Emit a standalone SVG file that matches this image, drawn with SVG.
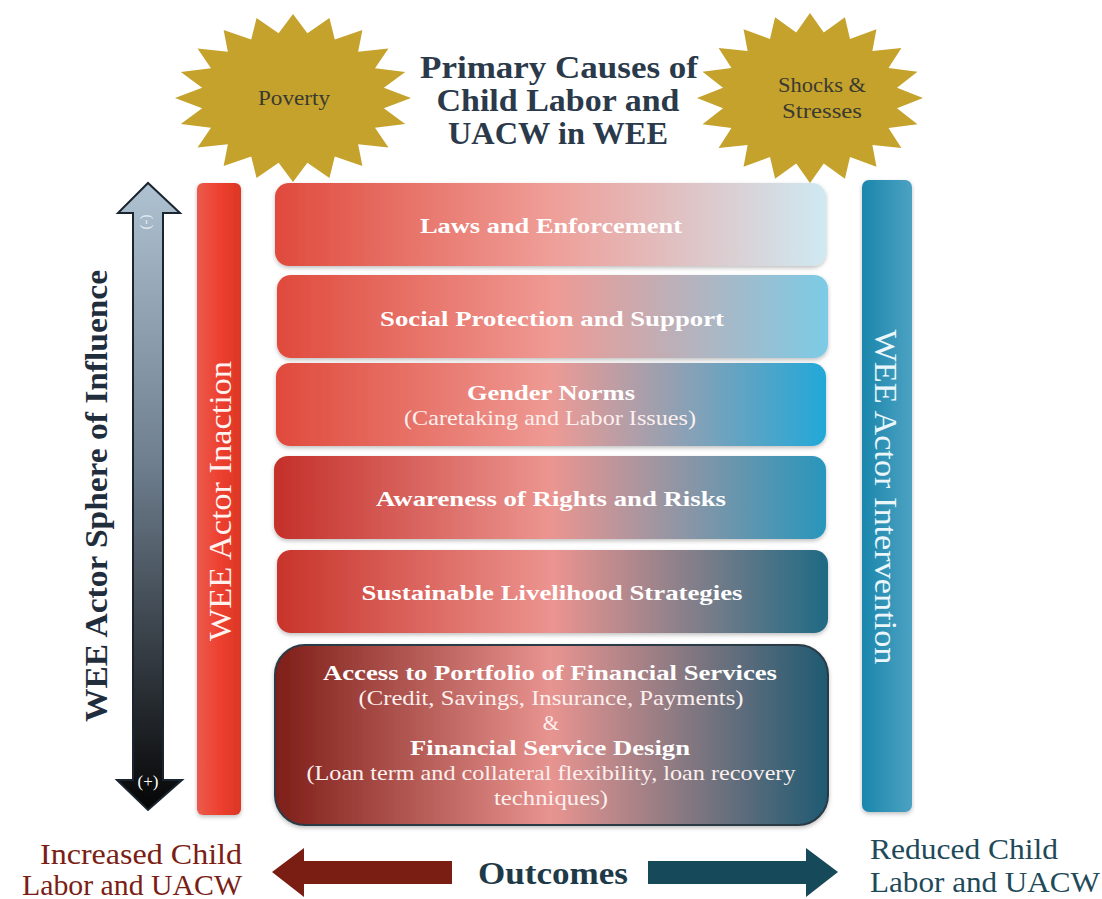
<svg xmlns="http://www.w3.org/2000/svg" width="1102" height="899" viewBox="0 0 1102 899">
<style>
.serif{font-family:"Liberation Serif","DejaVu Serif",serif}
.title{font-family:"Liberation Serif",serif;font-weight:bold;font-size:31px;fill:#2b3a4a;text-anchor:middle}
.bt{font-family:"Liberation Serif",serif;font-weight:bold;font-size:21px;fill:#fff;text-anchor:middle}
.rt{font-family:"Liberation Serif",serif;font-size:21px;fill:#fdf0ee;text-anchor:middle}
.star{fill:#c4a22c}
.startxt{font-family:"Liberation Serif",serif;font-size:20px;fill:#3a3a30;text-anchor:middle}
.box{filter:url(#sh)}
.out{font-family:"Liberation Serif",serif;font-size:30px}
</style>
<defs>
<filter id="sh" x="-5%" y="-10%" width="110%" height="125%">
<feDropShadow dx="0" dy="2" stdDeviation="2" flood-color="#000" flood-opacity="0.25"/>
</filter>
<polygon id="starshape" points="0,-100 12.2,-77 30.9,-95.1 35.4,-69.5 58.8,-80.9 55.2,-55.2 80.9,-58.8 69.5,-35.4 95.1,-30.9 77,-12.2 100,0 77,12.2 95.1,30.9 69.5,35.4 80.9,58.8 55.2,55.2 58.8,80.9 35.4,69.5 30.9,95.1 12.2,77 0,100 -12.2,77 -30.9,95.1 -35.4,69.5 -58.8,80.9 -55.2,55.2 -80.9,58.8 -69.5,35.4 -95.1,30.9 -77,12.2 -100,0 -77,-12.2 -95.1,-30.9 -69.5,-35.4 -80.9,-58.8 -55.2,-55.2 -58.8,-80.9 -35.4,-69.5 -30.9,-95.1 -12.2,-77"/>
<linearGradient id="g1" x1="0" x2="1" y1="0" y2="0"><stop offset="0" stop-color="#e04a3c"/><stop offset="0.5" stop-color="#ef9e98"/><stop offset="1" stop-color="#cfe9f2"/></linearGradient>
<linearGradient id="g2" x1="0" x2="1" y1="0" y2="0"><stop offset="0" stop-color="#e04a3c"/><stop offset="0.5" stop-color="#ef9a94"/><stop offset="1" stop-color="#7ccbe6"/></linearGradient>
<linearGradient id="g3" x1="0" x2="1" y1="0" y2="0"><stop offset="0" stop-color="#e04a3c"/><stop offset="0.5" stop-color="#ee9a94"/><stop offset="1" stop-color="#22a8d8"/></linearGradient>
<linearGradient id="g4" x1="0" x2="1" y1="0" y2="0"><stop offset="0" stop-color="#c4302a"/><stop offset="0.5" stop-color="#ec9590"/><stop offset="1" stop-color="#2896bc"/></linearGradient>
<linearGradient id="g5" x1="0" x2="1" y1="0" y2="0"><stop offset="0" stop-color="#c8342a"/><stop offset="0.5" stop-color="#ec9490"/><stop offset="1" stop-color="#1e6a84"/></linearGradient>
<linearGradient id="g6" x1="0" x2="1" y1="0" y2="0"><stop offset="0" stop-color="#7e1e18"/><stop offset="0.5" stop-color="#e89490"/><stop offset="1" stop-color="#1e5a72"/></linearGradient>
<linearGradient id="gred" x1="0" x2="1" y1="0" y2="0"><stop offset="0" stop-color="#ea5c4c"/><stop offset="0.5" stop-color="#ee4030"/><stop offset="1" stop-color="#dc3624"/></linearGradient>
<linearGradient id="gblue" x1="0" x2="1" y1="0" y2="0"><stop offset="0" stop-color="#1a86ac"/><stop offset="1" stop-color="#4ca2c2"/></linearGradient>
<linearGradient id="garrow" x1="0" x2="0" y1="0" y2="1"><stop offset="0" stop-color="#afc2d2"/><stop offset="0.45" stop-color="#6e7e8e"/><stop offset="1" stop-color="#050505"/></linearGradient>
</defs>

<g id="poverty">
<use href="#starshape" class="star" transform="translate(293,98) scale(1.18,0.84)"/>
<text class="startxt" x="294" y="105" textLength="72" lengthAdjust="spacingAndGlyphs">Poverty</text>
</g>
<g id="shocks">
<use href="#starshape" class="star" transform="translate(810,98) scale(1.13,0.85)"/>
<text class="startxt" x="822" y="92" textLength="88" lengthAdjust="spacingAndGlyphs">Shocks &amp;</text>
<text class="startxt" x="822" y="118" textLength="80" lengthAdjust="spacingAndGlyphs">Stresses</text>
</g>
<g id="title">
<text class="title" x="559" y="78" textLength="278" lengthAdjust="spacingAndGlyphs">Primary Causes of</text>
<text class="title" x="558" y="111" textLength="243" lengthAdjust="spacingAndGlyphs">Child Labor and</text>
<text class="title" x="558" y="144" textLength="220" lengthAdjust="spacingAndGlyphs">UACW in WEE</text>
</g>

<g id="sphere">
<path d="M133,213 L118,213 L148,183 L180,213 L163,213 L163,780 L182,780 L148,810 L117,780 L133,780 Z" fill="url(#garrow)" stroke="#1a2530" stroke-width="2" stroke-linejoin="miter"/>
<text class="serif" x="148" y="222" font-size="15" fill="#e6eef4" text-anchor="middle" transform="rotate(90,148,222)" dy="5">(-)</text>
<text class="serif" x="148" y="787" font-size="17" fill="#ffffff" text-anchor="middle">(+)</text>
<text class="serif" transform="translate(107,496) rotate(-90)" font-size="31" font-weight="bold" fill="#1f2d3c" text-anchor="middle" textLength="452" lengthAdjust="spacingAndGlyphs">WEE Actor Sphere of Influence</text>
</g>

<g id="inaction">
<rect x="197" y="183" width="44" height="632" rx="6" fill="url(#gred)" class="box"/>
<text class="serif" transform="translate(231,501) rotate(-90)" font-size="31" fill="#fff2ef" text-anchor="middle" textLength="280" lengthAdjust="spacingAndGlyphs">WEE Actor Inaction</text>
</g>

<g id="intervention">
<rect x="862" y="180" width="50" height="632" rx="7" fill="url(#gblue)" class="box"/>
<text class="serif" transform="translate(875,497) rotate(90)" font-size="31" fill="#eaf6fa" text-anchor="middle" textLength="335" lengthAdjust="spacingAndGlyphs">WEE Actor Intervention</text>
</g>

<g id="laws">
<rect x="275" y="183" width="551" height="83" rx="14" fill="url(#g1)" class="box"/>
<text class="bt" x="551" y="233" textLength="262" lengthAdjust="spacingAndGlyphs">Laws and Enforcement</text>
</g>
<g id="social">
<rect x="277" y="275" width="551" height="83" rx="14" fill="url(#g2)" class="box"/>
<text class="bt" x="552" y="326" textLength="344" lengthAdjust="spacingAndGlyphs">Social Protection and Support</text>
</g>
<g id="gender">
<rect x="276" y="363" width="550" height="83" rx="14" fill="url(#g3)" class="box"/>
<text class="bt" x="551" y="400" textLength="168" lengthAdjust="spacingAndGlyphs">Gender Norms</text>
<text class="rt" x="550" y="425" textLength="292" lengthAdjust="spacingAndGlyphs">(Caretaking and Labor Issues)</text>
</g>
<g id="awareness">
<rect x="274" y="456" width="552" height="83" rx="14" fill="url(#g4)" class="box"/>
<text class="bt" x="551" y="506" textLength="350" lengthAdjust="spacingAndGlyphs">Awareness of Rights and Risks</text>
</g>
<g id="livelihood">
<rect x="277" y="550" width="551" height="83" rx="14" fill="url(#g5)" class="box"/>
<text class="bt" x="552" y="600" textLength="381" lengthAdjust="spacingAndGlyphs">Sustainable Livelihood Strategies</text>
</g>
<g id="finance">
<rect x="275" y="645" width="553" height="180" rx="30" fill="url(#g6)" stroke="#2a3a45" stroke-width="2" class="box"/>
<text class="bt" x="550" y="680" textLength="454" lengthAdjust="spacingAndGlyphs">Access to Portfolio of Financial Services</text>
<text class="rt" x="551" y="705" textLength="385" lengthAdjust="spacingAndGlyphs">(Credit, Savings, Insurance, Payments)</text>
<text class="rt" x="551" y="730">&amp;</text>
<text class="bt" x="550" y="755" textLength="280" lengthAdjust="spacingAndGlyphs">Financial Service Design</text>
<text class="rt" x="551" y="780" textLength="489" lengthAdjust="spacingAndGlyphs">(Loan term and collateral flexibility, loan recovery</text>
<text class="rt" x="551" y="805" textLength="114" lengthAdjust="spacingAndGlyphs">techniques)</text>
</g>

<g id="connectors">
<polygon points="272,872 304,848 304,861 452,861 452,884 304,884 304,897" fill="#7a1e14"/>
<polygon points="838,872 806,848 806,861 648,861 648,884 806,884 806,897" fill="#16495a"/>
</g>

<g id="outcomes">
<text class="serif" x="553" y="884" font-size="31" font-weight="bold" fill="#1e3a48" text-anchor="middle" textLength="150" lengthAdjust="spacingAndGlyphs">Outcomes</text>
</g>
<g id="increased">
<text class="out" x="242" y="864" fill="#7a1e16" text-anchor="end" textLength="202" lengthAdjust="spacingAndGlyphs">Increased Child</text>
<text class="out" x="242" y="895" fill="#7a1e16" text-anchor="end" textLength="220" lengthAdjust="spacingAndGlyphs">Labor and UACW</text>
</g>
<g id="reduced">
<text class="out" x="870" y="859" fill="#1e4a5a" textLength="188" lengthAdjust="spacingAndGlyphs">Reduced Child</text>
<text class="out" x="870" y="892" fill="#1e4a5a" textLength="230" lengthAdjust="spacingAndGlyphs">Labor and UACW</text>
</g>
</svg>
